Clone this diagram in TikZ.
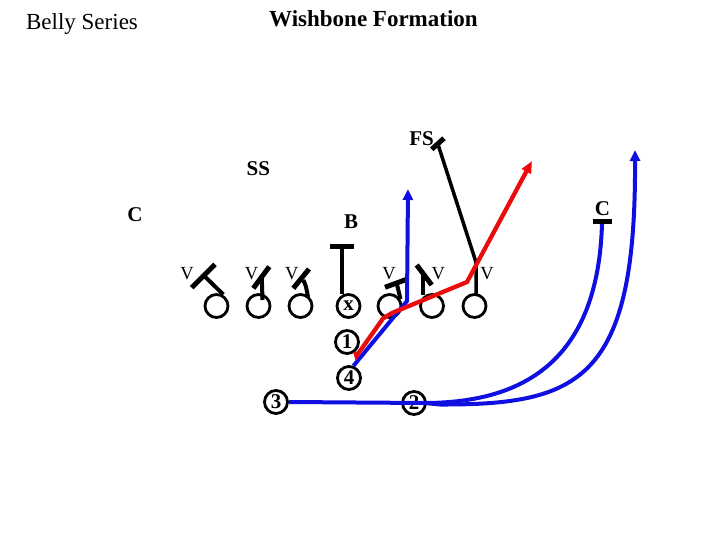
\documentclass[tikz,border=0pt]{standalone}
\usepackage{fontspec}
\setmainfont{Liberation Serif}
\usetikzlibrary{arrows.meta}
\definecolor{routeblue}{RGB}{15,15,225}
\definecolor{routered}{RGB}{232,12,12}
\begin{document}
\begin{tikzpicture}[x=1pt,y=-1pt,
  player/.style={circle,draw,line width=2.8pt,minimum size=23pt,inner sep=0pt},
  numplayer/.style={player,font=\fontsize{21}{21}\selectfont\bfseries},
  deflabel/.style={inner sep=0pt,font=\fontsize{21}{21}\selectfont\bfseries},
  vlabel/.style={inner sep=0pt,font=\fontsize{18.5}{18.5}\selectfont},
  blockmark/.style={line width=5pt},
  stemmark/.style={line width=4pt},
  assignline/.style={line width=3.5pt},
  blueroute/.style={draw=routeblue,line width=4pt,-{Triangle[length=11pt,width=10pt]}},
  bluenoarrow/.style={draw=routeblue,line width=4pt},
  redroute/.style={draw=routered,line width=4.3pt,line join=miter,-{Triangle[length=12pt,width=10pt]}}
]
\useasboundingbox (0,0) rectangle (720,540);

% titles
\node[anchor=base,inner sep=0pt,font=\fontsize{23}{23}\selectfont] (title1) at (82,29.3) {Belly Series};
\node[anchor=base,inner sep=0pt,font=\fontsize{23}{23}\selectfont\bfseries] (title2) at (373.5,26.7) {Wishbone Formation};

% defender labels
\node[deflabel] (fs) at (421.5,138.3) {FS};
\node[deflabel] (ss) at (258.3,168.3) {SS};
\node[deflabel] (cl) at (135,215) {C};
\node[deflabel] (bl) at (351,221.7) {B};
\node[deflabel] (cr) at (602.5,209) {C};

\node[vlabel] (v1) at (187,274) {V};
\node[vlabel] (v2) at (251.5,274) {V};
\node[vlabel] (v3) at (291.7,274) {V};
\node[vlabel] (v4) at (389,274) {V};
\node[vlabel] (v5) at (438.3,274) {V};
\node[vlabel] (v6) at (487,274) {V};

% offensive line
\node[player] (p1) at (216.5,306) {};
\node[player] (p2) at (258.5,306) {};
\node[player] (p3) at (300.5,306) {};
\node[player,font=\fontsize{21}{21}\selectfont\bfseries] (pc) at (348.5,306) {x};
\node[player] (p5) at (389.5,306) {};
\node[player] (p6) at (432,306) {};
\node[player] (p7) at (474.5,306) {};

% backs
\node[numplayer] (n1) at (347,342) {1};
\node[numplayer] (n4) at (349,378) {4};
\node[numplayer] (n3) at (276,402) {3};
\node[numplayer] (n2) at (414,403) {2};

% defender marks
\draw[blockmark] (191.7,287.7) -- (215,264.3);
\draw[stemmark] (205,276.7) -- (223.3,294.5);
\draw[blockmark] (253.3,288.3) -- (269.3,266.7);
\draw[stemmark] (261.7,275) -- (262.5,300);
\draw[blockmark] (293.3,288.3) -- (309,269);
\draw[stemmark] (303.3,280) .. controls (306,286) .. (308,297);
\draw[blockmark] (330,246) -- (354,246);
\draw[stemmark] (342,246) -- (342,294);
\draw[blockmark] (385,287.3) -- (406.7,279.3);
\draw[stemmark] (396.7,283.3) -- (400.5,299);
\draw[blockmark] (416.7,265) -- (431.7,285);
\draw[stemmark] (423.3,275) -- (423.3,295);
\draw[blockmark] (431.7,149.3) -- (444,138.3);
\draw[assignline] (437.8,143.8) -- (474,256) .. controls (476,262) .. (476,270) -- (476,294);
\draw[blockmark] (593,222) -- (612,222);

% routes
\coordinate (split) at (424,403);
\coordinate (cbar) at (602,224);
\coordinate (tipwide) at (635,150);
\coordinate (tipdive) at (408,189);
\coordinate (bend4) at (407,301);
\draw[bluenoarrow] (n3.east) -- (split);
\draw[bluenoarrow] (split) .. controls (530,403) and (598,355) .. (cbar);
\draw[blueroute] (split) -- (440,404.5) .. controls (580,405) and (636,380) .. (tipwide);
\draw[blueroute] (n4.70) -- (bend4) -- (tipdive);
\draw[redroute] (n1.-50) -- (356.5,356) -- (383,318.5) -- (392,313) -- (467,282) -- (532,161);
\end{tikzpicture}
\end{document}
